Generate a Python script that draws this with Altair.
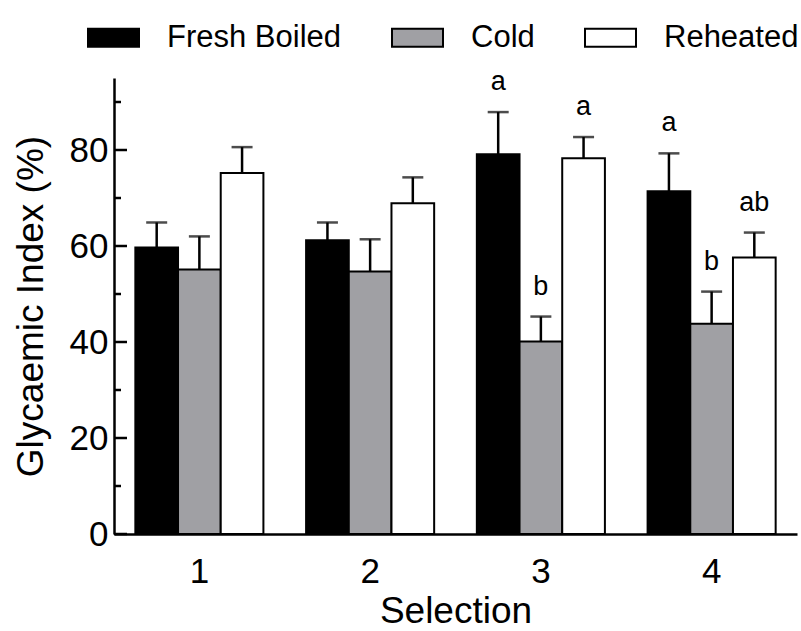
import altair as alt
import pandas as pd

groups = ["1", "2", "3", "4"]
series = ["Fresh Boiled", "Cold", "Reheated"]
colors = ["#000000", "#a0a0a4", "#ffffff"]

fresh_mean = [59.7, 61.2, 79.1, 71.4]
fresh_sem = [5.2, 3.7, 8.8, 7.9]
cold_mean = [55.1, 54.7, 40.1, 43.8]
cold_sem = [6.9, 6.7, 5.2, 6.7]
reheated_mean = [75.2, 68.9, 78.3, 57.6]
reheated_sem = [5.4, 5.4, 4.4, 5.2]

fresh_letters = ["", "", "a", "a"]
cold_letters = ["", "", "b", "b"]
reheated_letters = ["", "", "a", "ab"]

major_ticks = [0, 20, 40, 60, 80]
minor_ticks = [10, 30, 50, 70, 90]

rows = []
for name, means, sems, letters in [
    ("Fresh Boiled", fresh_mean, fresh_sem, fresh_letters),
    ("Cold", cold_mean, cold_sem, cold_letters),
    ("Reheated", reheated_mean, reheated_sem, reheated_letters),
]:
    for g, m, s, l in zip(groups, means, sems, letters):
        rows.append({"group": g, "series": name, "mean": m, "upper": m + s, "letter": l})
df = pd.DataFrame(rows)

FONT = "Liberation Sans"
yscale = alt.Scale(domain=[0, 95], nice=False, zero=True)
xscale = alt.Scale(domain=groups, paddingInner=0.25, paddingOuter=0.125)
offscale = alt.Scale(domain=series, paddingInner=0, paddingOuter=0)

x_enc = alt.X(
    "group:N",
    scale=xscale,
    axis=alt.Axis(
        title="Selection",
        labelAngle=0,
        ticks=False,
        labelPadding=20,
        domainWidth=2.5,
        domainColor="black",
        labelFontSize=35,
        labelColor="black",
        titleFontSize=37,
        titleFontWeight="normal",
        titleColor="black",
        titleBaseline="alphabetic",
        titleY=88,
    ),
)
xo_enc = alt.XOffset("series:N", scale=offscale, sort=series)

base = alt.Chart(df)

bars = base.mark_bar(stroke="black", strokeWidth=2).encode(
    x=x_enc,
    xOffset=xo_enc,
    y=alt.Y(
        "mean:Q",
        scale=yscale,
        axis=alt.Axis(
            values=major_ticks,
            ticks=False,
            grid=False,
            labelPadding=6,
            domainWidth=2.5,
            domainColor="black",
            labelFontSize=35,
            labelColor="black",
            title="Glycaemic Index (%)",
            titleFontSize=37,
            titleFontWeight="normal",
            titleColor="black",
            titleAngle=-90,
            titleBaseline="alphabetic",
            titleAlign="center",
            titleX=-72,
            titleY=228,
        ),
    ),
    fill=alt.Fill(
        "series:N",
        scale=alt.Scale(domain=series, range=colors),
        sort=series,
        legend=alt.Legend(
            title=None,
            orient="none",
            legendX=-27,
            legendY=-67,
            direction="horizontal",
            symbolType="M-1,-0.35H1V0.35H-1Z",
            symbolSize=2601,
            symbolStrokeColor="black",
            symbolStrokeWidth=2,
            labelFontSize=31,
            labelColor="black",
            labelOffset=27,
            labelLimit=400,
            columnPadding=46,
        ),
    ),
)

err = base.mark_rule(color="black", strokeWidth=2.5).encode(
    x=alt.X("group:N", scale=xscale),
    xOffset=xo_enc,
    y=alt.Y("mean:Q", scale=yscale),
    y2="upper:Q",
)

caps = base.mark_tick(color="black", size=21, thickness=2.5).encode(
    x=alt.X("group:N", scale=xscale),
    xOffset=xo_enc,
    y=alt.Y("upper:Q", scale=yscale),
)

letters = base.mark_text(dy=-22, baseline="alphabetic", align="center", fontSize=27, color="black").encode(
    x=alt.X("group:N", scale=xscale),
    xOffset=xo_enc,
    y=alt.Y("upper:Q", scale=yscale),
    text="letter:N",
)

major = alt.Chart(pd.DataFrame({"v": major_ticks})).mark_rule(color="black", strokeWidth=2.5).encode(
    y=alt.Y("v:Q", scale=yscale),
    x=alt.value(0),
    x2=alt.value(13),
)
minor = alt.Chart(pd.DataFrame({"v": minor_ticks})).mark_rule(color="black", strokeWidth=2.5).encode(
    y=alt.Y("v:Q", scale=yscale),
    x=alt.value(0),
    x2=alt.value(7),
)

chart = (
    alt.layer(bars, err, caps, letters, major, minor)
    .properties(
        width=683,
        height=456,
        autosize=alt.AutoSizeParams(type="none"),
        padding={"left": 114, "top": 78, "right": 4, "bottom": 97},
    )
    .configure(font=FONT)
    .configure_view(stroke="transparent")
)

chart.save("out.html", embed_options={"renderer": "svg", "actions": False})
